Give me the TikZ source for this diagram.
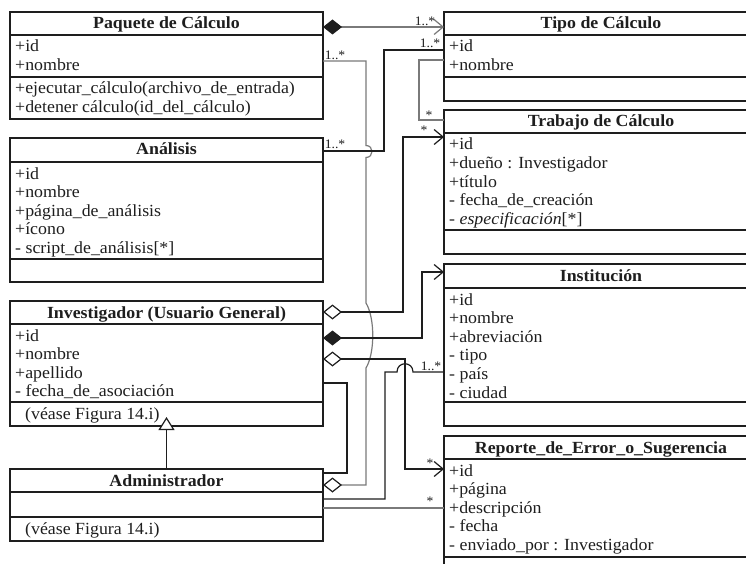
\documentclass[tikz,border=0pt]{standalone}
\usepackage{fontspec}
\setmainfont{Liberation Serif}[FakeStretch=1.05]
\usetikzlibrary{arrows.meta}
\definecolor{ink}{HTML}{1E1E1E}
\definecolor{lgray}{HTML}{7A7A7A}
\newcommand\attrlines[1]{\begin{tabular}[t]{@{}l@{}}#1\end{tabular}}
\begin{document}
\begin{tikzpicture}[x=1pt,y=-1pt,line join=miter,
  box/.style={draw=ink, line width=1.3pt, anchor=north west, inner sep=0pt, outer sep=0pt},
  sep/.style={draw=ink, line width=1.3pt},
  title/.style={anchor=base, inner sep=0pt, text=ink, font=\fontsize{17}{18.6}\selectfont\bfseries},
  attr/.style={anchor=base west, inner sep=0pt, text=ink, font=\fontsize{17}{18.6}\selectfont},
  mult/.style={inner sep=0pt, text=ink, font=\fontsize{13}{15}\selectfont},
  link/.style={line width=1.2pt, draw=ink},
  glink/.style={line width=1.2pt, draw=lgray},
  odt/.tip={Diamond[length=19pt,width=15pt,fill=white,color=ink]},
  fdt/.tip={Diamond[length=19pt,width=15pt,color=ink]},
  barb/.tip={Straight Barb[length=9pt,width=15pt]},
]
\useasboundingbox (0,0) rectangle (746,564);
\fill[white] (0,0) rectangle (746,564);

% ---------- left column of classes ----------
\node[box, minimum width=313pt, minimum height=107pt] (paq) at (10,12) {};
\draw[sep] (paq.west |- 0,35) -- (paq.east |- 0,35);
\draw[sep] (paq.west |- 0,77) -- (paq.east |- 0,77);
\node[title] (paq-t) at (166.5,29) {Paquete de Cálculo};
\node[attr] (paq-a) at (15,52) {\attrlines{+id\\+nombre}};
\node[attr] (paq-o) at (15,94) {\attrlines{+ejecutar\_cálculo(archivo\_de\_entrada)\\+detener cálculo(id\_del\_cálculo)}};

\node[box, minimum width=313pt, minimum height=144pt] (ana) at (10,138) {};
\draw[sep] (ana.west |- 0,162) -- (ana.east |- 0,162);
\draw[sep] (ana.west |- 0,259) -- (ana.east |- 0,259);
\node[title] (ana-t) at (166.5,155) {Análisis};
\node[attr] (ana-a) at (15,179) {\attrlines{+id\\+nombre\\+página\_de\_análisis\\+ícono\\- script\_de\_análisis[*]}};

\node[box, minimum width=313pt, minimum height=125pt] (inv) at (10,301) {};
\draw[sep] (inv.west |- 0,324) -- (inv.east |- 0,324);
\draw[sep] (inv.west |- 0,402) -- (inv.east |- 0,402);
\node[title] (inv-t) at (166.5,318) {Investigador (Usuario General)};
\node[attr] (inv-a) at (15,341) {\attrlines{+id\\+nombre\\+apellido\\- fecha\_de\_asociación}};
\node[attr] (inv-o) at (25,419) {(véase Figura 14.i)};

\node[box, minimum width=313pt, minimum height=72pt] (adm) at (10,469) {};
\draw[sep] (adm.west |- 0,492) -- (adm.east |- 0,492);
\draw[sep] (adm.west |- 0,517) -- (adm.east |- 0,517);
\node[title] (adm-t) at (166.5,486) {Administrador};
\node[attr] (adm-o) at (25,534) {(véase Figura 14.i)};

% ---------- right column of classes ----------
\node[box, minimum width=314pt, minimum height=89pt] (tipo) at (444,12) {};
\draw[sep] (tipo.west |- 0,35) -- (tipo.east |- 0,35);
\draw[sep] (tipo.west |- 0,77) -- (tipo.east |- 0,77);
\node[title] (tipo-t) at (601,29) {Tipo de Cálculo};
\node[attr] (tipo-a) at (449,52) {\attrlines{+id\\+nombre}};

\node[box, minimum width=314pt, minimum height=144pt] (trab) at (444,110) {};
\draw[sep] (trab.west |- 0,133) -- (trab.east |- 0,133);
\draw[sep] (trab.west |- 0,230) -- (trab.east |- 0,230);
\node[title] (trab-t) at (601,127) {Trabajo de Cálculo};
\node[attr] (trab-a) at (449,150) {\attrlines{+id\\+dueño : Investigador\\+título\\- fecha\_de\_creación\\- \textit{especificación}[*]}};

\node[box, minimum width=314pt, minimum height=162pt] (inst) at (444,264) {};
\draw[sep] (inst.west |- 0,288) -- (inst.east |- 0,288);
\draw[sep] (inst.west |- 0,402) -- (inst.east |- 0,402);
\node[title] (inst-t) at (601,281) {Institución};
\node[attr] (inst-a) at (449,305) {\attrlines{+id\\+nombre\\+abreviación\\- tipo\\- país\\- ciudad}};

\node[box, minimum width=314pt, minimum height=160pt] (rep) at (444,436) {};
\draw[sep] (rep.west |- 0,459) -- (rep.east |- 0,459);
\draw[sep] (rep.west |- 0,557) -- (rep.east |- 0,557);
\node[title] (rep-t) at (601,453) {Reporte\_de\_Error\_o\_Sugerencia};
\node[attr] (rep-a) at (449,476) {\attrlines{+id\\+página\\+descripción\\- fecha\\- enviado\_por : Investigador}};

% ---------- associations ----------
% Paquete de Cálculo -> Tipo de Cálculo
\draw[glink, fdt-barb] (paq.east |- 0,27) -- (tipo.west |- 0,27);
\node[mult] (m1) at (425,21) {1..*};

% Administrador <>-- Paquete de Cálculo (hops over crossing lines)
\draw[glink, odt-] (adm.east |- 0,485) -- (366,485) -- (366,368)
  .. controls (375,353) and (375,318) .. (366,303) -- (366,157.5)
  .. controls (374,157.5) and (374,145.5) .. (366,145.5) -- (366,61) -- (paq.east |- 0,61);
\node[mult] (m2) at (335,55) {1..*};

% Análisis -- Tipo de Cálculo
\draw[link] (ana.east |- 0,151) -- (384,151) -- (384,50) -- (tipo.west |- 0,50);
\node[mult] (m3) at (335,144) {1..*};
\node[mult] (m4) at (430,43) {1..*};

% Tipo de Cálculo -- Trabajo de Cálculo
\draw[glink] (tipo.west |- 0,60) -- (419,60) -- (419,120) -- (trab.west |- 0,120);
\node[mult] (m5) at (429,115) {*};

% Investigador <>-> Trabajo de Cálculo
\draw[link, odt-barb] (inv.east |- 0,312) -- (403,312) -- (403,137) -- (trab.west |- 0,137);
\node[mult] (m6) at (424,130) {*};

% Investigador <#>-> Institución
\draw[link, fdt-barb] (inv.east |- 0,338) -- (422,338) -- (422,272) -- (inst.west |- 0,272);

% Investigador <>-> Reporte
\draw[link, odt-barb] (inv.east |- 0,359) -- (405,359) -- (405,469) -- (rep.west |- 0,469);
\node[mult] (m7) at (430,463) {*};

% Administrador -- Institución (hop over the Reporte link)
\draw[link] (adm.east |- 0,499) -- (385,499) -- (385,372) -- (397,372)
  .. controls (397,361) and (413,361) .. (413,372) -- (inst.west |- 0,372);
\node[mult] (m8) at (431,366) {1..*};

% Investigador -- Administrador
\draw[link] (inv.east |- 0,383) -- (347,383) -- (347,473) -- (adm.east |- 0,473);

% Administrador -- Reporte
\draw[glink] (adm.east |- 0,508) -- (rep.west |- 0,508);
\node[mult] (m9) at (430,501) {*};

% generalization Administrador -> Investigador
\draw[link, -{Triangle[length=13pt,width=16pt,fill=white]}] (adm.north) -- ([yshift=9pt]inv.south);
\end{tikzpicture}
\end{document}
